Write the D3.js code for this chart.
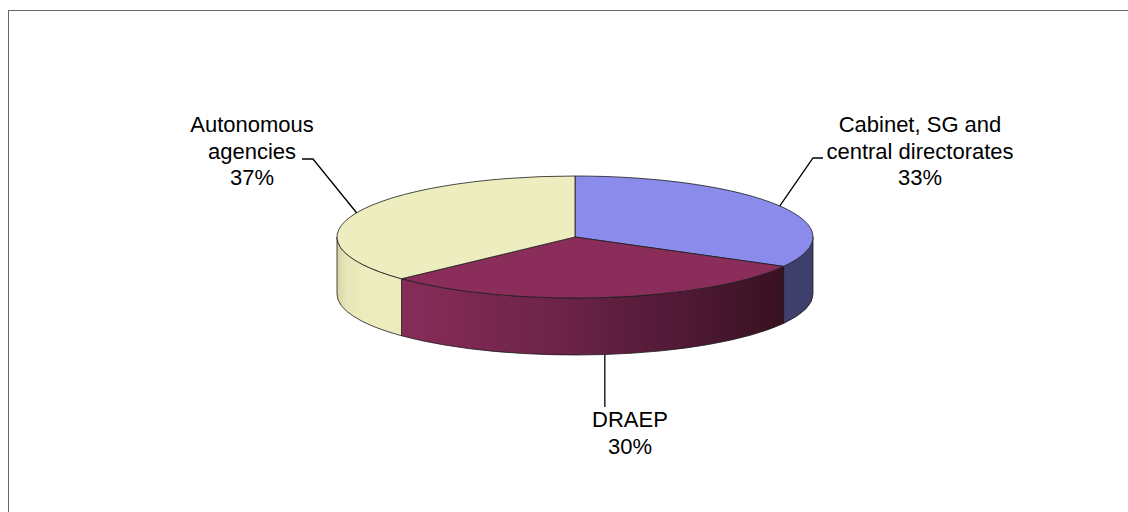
<!DOCTYPE html>
<html>
<head>
<meta charset="utf-8">
<script src="https://cdn.jsdelivr.net/npm/d3@7"></script>
<style>
  html, body { margin: 0; padding: 0; background: #fff; }
  svg { display: block; }
  text { font-family: "Liberation Sans", Arial, sans-serif; font-size: 22px; fill: #000; }
</style>
</head>
<body>
<svg id="chart" width="1128" height="512"></svg>
<script>
// Spending share by organisational unit
const categories = ["Cabinet, SG and central directorates", "DRAEP", "Autonomous agencies"];
const values = [33, 30, 37];
const labelLines = [["Cabinet, SG and", "central directorates"], ["DRAEP"], ["Autonomous", "agencies"]];

const topColors = ["#8a8beb", "#8b2d5b", "#ededbf"];

const svg = d3.select("#chart");
const W = 1128, H = 512;

// chart frame
svg.append("rect")
  .attr("x", 8.5).attr("y", 10.5)
  .attr("width", W + 10).attr("height", H + 10)
  .attr("fill", "none").attr("stroke", "#666").attr("stroke-width", 1);

// 3D pie geometry
const cx = 575, cy = 237, rx = 238, ry = 61, depth = 57;

const pie = d3.pie().sort(null).value(d => d)
  .startAngle(0).endAngle(2 * Math.PI);
const arcs = pie(values);

const px = a => cx + rx * Math.sin(a);
const py = a => cy - ry * Math.cos(a);

// side shading gradients
const defs = svg.append("defs");
function grad(id, stops) {
  const g = defs.append("linearGradient").attr("id", id)
    .attr("gradientUnits", "userSpaceOnUse")
    .attr("x1", cx - rx).attr("y1", 0).attr("x2", cx + rx).attr("y2", 0);
  stops.forEach(([o, c]) => g.append("stop").attr("offset", o).attr("stop-color", c));
}
grad("side0", [[0, "#3f3f6b"], [1, "#3f3f6b"]]);
grad("side1", [[0, "#8c2e5c"], [0.14, "#872c59"], [0.45, "#6e2449"], [0.7, "#531a37"], [0.95, "#36111f"], [1, "#34101e"]]);
grad("side2", [[0, "#d4d4a6"], [0.02, "#e6e6b8"], [0.06, "#ececbe"], [1, "#ececbe"]]);

// front walls (only the half facing the viewer is visible)
const walls = svg.append("g");
arcs.forEach((d, i) => {
  const s0 = Math.max(d.startAngle, Math.PI / 2);
  const s1 = Math.min(d.endAngle, 3 * Math.PI / 2);
  if (s1 <= s0) return;
  const p = `M${px(s0)},${py(s0)}` +
    ` A${rx},${ry} 0 0 1 ${px(s1)},${py(s1)}` +
    ` L${px(s1)},${py(s1) + depth}` +
    ` A${rx},${ry} 0 0 0 ${px(s0)},${py(s0) + depth} Z`;
  walls.append("path").attr("d", p)
    .attr("fill", `url(#side${i})`)
    .attr("stroke", "#1c1c1c").attr("stroke-width", 0.8)
    .attr("stroke-linejoin", "round");
});

// top faces
const tops = svg.append("g");
arcs.forEach((d, i) => {
  const a0 = d.startAngle, a1 = d.endAngle;
  const large = (a1 - a0) > Math.PI ? 1 : 0;
  const p = `M${cx},${cy} L${px(a0)},${py(a0)}` +
    ` A${rx},${ry} 0 ${large} 1 ${px(a1)},${py(a1)} Z`;
  tops.append("path").attr("d", p)
    .attr("fill", topColors[i])
    .attr("stroke", "#1c1c1c").attr("stroke-width", 0.8)
    .attr("stroke-linejoin", "round");
});

// data labels with leader lines
const lineH = 26.5;
const labelLayout = [
  { x: 920, y: 132, elbow: [813, 158], end: [823, 158], front: false },
  { x: 630, y: 427, elbow: null, end: null, front: true },
  { x: 252, y: 132, elbow: [313, 159], end: [302, 159], front: false }
];

const leaders = svg.append("g").attr("fill", "none").attr("stroke", "#000").attr("stroke-width", 1.3);
arcs.forEach((d, i) => {
  const mid = (d.startAngle + d.endAngle) / 2;
  const L = labelLayout[i];
  const ax = px(mid);
  if (L.front) {
    const ay = py(mid) + depth;
    leaders.append("path").attr("d", `M${ax},${ay} L${ax},${L.y - 20}`);
  } else {
    const ay = py(mid);
    leaders.append("path")
      .attr("d", `M${ax},${ay} L${L.elbow[0]},${L.elbow[1]} L${L.end[0]},${L.end[1]}`);
  }
  const lines = labelLines[i].concat([`${values[i]}%`]);
  const t = svg.append("text").attr("text-anchor", "middle");
  lines.forEach((s, k) => {
    t.append("tspan").attr("x", L.x).attr("y", L.y + k * lineH).text(s);
  });
});
</script>
</body>
</html>
